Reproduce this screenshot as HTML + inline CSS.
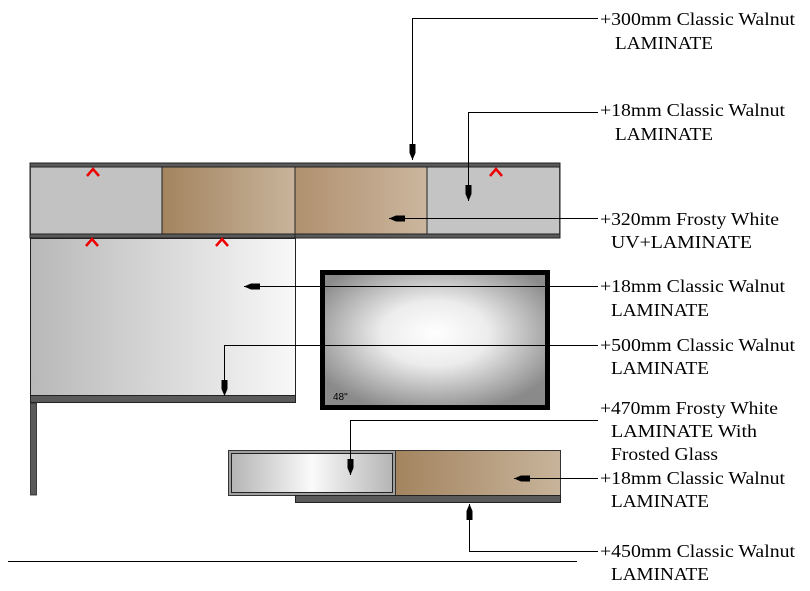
<!DOCTYPE html>
<html><head><meta charset="utf-8"><style>html,body{margin:0;padding:0;background:#fff}svg{display:block}text{font-family:"Liberation Serif",serif;font-size:18px;fill:#000}</style></head>
<body>
<svg width="810" height="591" viewBox="0 0 810 591" xmlns="http://www.w3.org/2000/svg">
<defs>
<linearGradient id="wal" x1="0" x2="1"><stop offset="0" stop-color="#a3845f"/><stop offset="1" stop-color="#c8b49b"/></linearGradient>
<linearGradient id="wal2" x1="0" x2="1"><stop offset="0" stop-color="#b0916f"/><stop offset="1" stop-color="#cbb69e"/></linearGradient>
<linearGradient id="wht" x1="0" x2="1"><stop offset="0" stop-color="#b8b8b8"/><stop offset="1" stop-color="#f8f8f8"/></linearGradient>
<linearGradient id="gls" x1="0" x2="1"><stop offset="0" stop-color="#b5b5b5"/><stop offset="0.5" stop-color="#fafafa"/><stop offset="1" stop-color="#b5b5b5"/></linearGradient>
<radialGradient id="tv" cx="0.5" cy="0.45" r="0.6"><stop offset="0" stop-color="#fff"/><stop offset="0.4" stop-color="#ececec"/><stop offset="1" stop-color="#8a8a8a"/></radialGradient>
<marker id="a" viewBox="0 0 16 6" refX="16" refY="3" markerWidth="16" markerHeight="6" orient="auto" markerUnits="userSpaceOnUse"><path d="M0,0 L9,0 L16,3 L9,6 L0,6 Z" fill="#000"/></marker>
</defs>
<rect x="30" y="163" width="530" height="75" fill="#5a5a5a" stroke="#222" stroke-width="1"/>
<rect x="31" y="167" width="131" height="67" fill="#c2c2c2"/>
<rect x="162" y="167" width="133" height="67" fill="url(#wal)"/>
<rect x="295" y="167" width="132" height="67" fill="url(#wal2)"/>
<rect x="427" y="167" width="132" height="67" fill="#c4c4c4"/>
<g stroke="#222" stroke-width="1"><line x1="162" y1="167" x2="162" y2="234"/><line x1="295" y1="167" x2="295" y2="238"/><line x1="427" y1="167" x2="427" y2="234"/><line x1="30" y1="167" x2="560" y2="167"/><line x1="30" y1="234" x2="560" y2="234"/></g>
<rect x="30.5" y="238.5" width="265" height="157" fill="url(#wht)" stroke="#222"/>
<rect x="30.5" y="395.5" width="265" height="7" fill="#5a5a5a" stroke="#222"/>
<rect x="30.5" y="403" width="6" height="92" fill="#5a5a5a" stroke="#222" stroke-width="0.8"/>
<g stroke="#e00" stroke-width="2.5" fill="none"><path d="M87,176 L93,169 L99,176"/><path d="M490,176 L496,169 L502,176"/><path d="M86,246 L92,239 L98,246"/><path d="M216,246 L222,239 L228,246"/></g>
<rect x="322.5" y="272.5" width="225" height="135" fill="url(#tv)" stroke="#000" stroke-width="5"/>
<text x="333" y="400" style="font-family:'Liberation Sans',sans-serif;font-size:10px">48"</text>
<rect x="228.5" y="450.5" width="167" height="45" fill="#a0a0a0" stroke="#333"/>
<rect x="231.5" y="453.5" width="161" height="39" fill="url(#gls)" stroke="#222"/>
<rect x="395.5" y="450.5" width="165" height="45" fill="url(#wal)" stroke="#333"/>
<rect x="295.5" y="495.5" width="265" height="7" fill="#5a5a5a" stroke="#222"/>
<line x1="8" y1="561.5" x2="577" y2="561.5" stroke="#000"/>
<g stroke="#000" stroke-width="1" fill="none" marker-end="url(#a)">
<polyline points="598,18.5 412.5,18.5 412.5,160"/>
<polyline points="598,112.5 468.5,112.5 468.5,201"/>
<polyline points="598,218.5 389,218.5"/>
<polyline points="598,286.5 244,286.5"/>
<polyline points="598,345.5 224.5,345.5 224.5,396"/>
<polyline points="598,420.5 350.5,420.5 350.5,475"/>
<polyline points="598,478.5 514,478.5"/>
<polyline points="598,551.5 469.5,551.5 469.5,504"/>
</g>
<text x="600" y="25" textLength="195" lengthAdjust="spacingAndGlyphs">+300mm Classic Walnut</text>
<text x="615" y="49" textLength="98" lengthAdjust="spacingAndGlyphs">LAMINATE</text>
<text x="600" y="116" textLength="185" lengthAdjust="spacingAndGlyphs">+18mm Classic Walnut</text>
<text x="615" y="140" textLength="98" lengthAdjust="spacingAndGlyphs">LAMINATE</text>
<text x="600" y="225" textLength="179" lengthAdjust="spacingAndGlyphs">+320mm Frosty White</text>
<text x="611" y="248" textLength="141" lengthAdjust="spacingAndGlyphs">UV+LAMINATE</text>
<text x="600" y="292" textLength="185" lengthAdjust="spacingAndGlyphs">+18mm Classic Walnut</text>
<text x="611" y="316" textLength="98" lengthAdjust="spacingAndGlyphs">LAMINATE</text>
<text x="600" y="351" textLength="195" lengthAdjust="spacingAndGlyphs">+500mm Classic Walnut</text>
<text x="611" y="374" textLength="98" lengthAdjust="spacingAndGlyphs">LAMINATE</text>
<text x="600" y="414" textLength="178" lengthAdjust="spacingAndGlyphs">+470mm Frosty White</text>
<text x="611" y="437" textLength="146" lengthAdjust="spacingAndGlyphs">LAMINATE With</text>
<text x="611" y="460" textLength="107" lengthAdjust="spacingAndGlyphs">Frosted Glass</text>
<text x="600" y="484" textLength="185" lengthAdjust="spacingAndGlyphs">+18mm Classic Walnut</text>
<text x="611" y="507" textLength="98" lengthAdjust="spacingAndGlyphs">LAMINATE</text>
<text x="600" y="557" textLength="195" lengthAdjust="spacingAndGlyphs">+450mm Classic Walnut</text>
<text x="611" y="580" textLength="98" lengthAdjust="spacingAndGlyphs">LAMINATE</text>
</svg>
</body></html>
